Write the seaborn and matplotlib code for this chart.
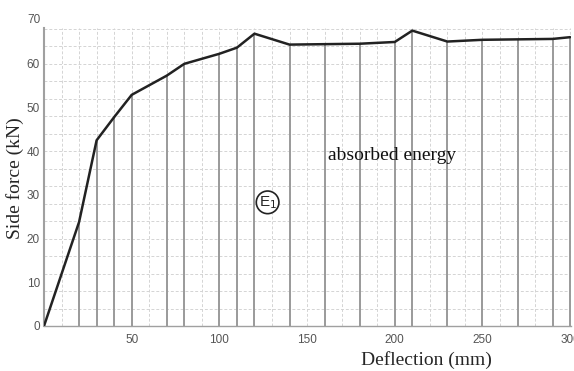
import matplotlib
matplotlib.use("Agg")
import matplotlib.pyplot as plt
import matplotlib.transforms as mtransforms
import numpy as np
import pandas as pd
import seaborn as sns

# ---- data ----
deflection = [0, 20, 30, 40, 50, 70, 80, 100, 110, 120, 140, 160, 180, 200, 210, 230, 250, 270, 290, 300]
side_force = [0, 23.8, 42.5, 47.8, 52.9, 57.3, 60.0, 62.3, 63.7, 66.9, 64.4, 64.5, 64.6, 65.0, 67.6, 65.1, 65.5, 65.6, 65.7, 66.1]
x_ticks = [50, 100, 150, 200, 250, 300]
y_ticks = [0, 10, 20, 30, 40, 50, 60]
y_extra_label = 70
annot_text = "absorbed energy"
energy_label = r"E$_1$"
x_label = "Deflection (mm)"
y_label = "Side force (kN)"

sns.set_theme(style="white")
plt.rcParams['font.family'] = ['Liberation Serif', 'DejaVu Serif']

df = pd.DataFrame({"x": deflection, "y": side_force})

fig = plt.figure(figsize=(5.74, 3.71), dpi=100)
ax = fig.add_axes([44/574, 1 - 326/371, 527/574, 298/371])

# minor dashed grid
for gx in np.arange(0, 301, 10):
    ax.axvline(gx, color="#d4d4d4", lw=0.7, ls=(0, (3, 2)), zorder=0)
for gy in np.arange(0, 69, 4):
    ax.axhline(gy, color="#d4d4d4", lw=0.7, ls=(0, (3, 2)), zorder=0)

# drop lines from curve vertices
ax.vlines(df["x"][1:], 0, df["y"][1:], colors="#9a9a9a", lw=1.4, zorder=1)

sns.lineplot(data=df, x="x", y="y", ax=ax, color="#222222", lw=1.8, zorder=3)

ax.set_xlim(0, 300.5)
ax.set_ylim(0, 68.2)
ax.set_xticks(x_ticks)
ax.set_yticks(y_ticks)
ax.tick_params(axis="both", length=0, labelsize=8.5, labelcolor="#555555")
ax.tick_params(axis="x", pad=6)
ax.tick_params(axis="y", pad=3)
for lab in ax.get_xticklabels() + ax.get_yticklabels():
    lab.set_family(["Liberation Sans", "DejaVu Sans"])

trans = mtransforms.blended_transform_factory(ax.transAxes, ax.transData)
ax.text(-0.006, y_extra_label, str(y_extra_label), transform=trans, ha="right", va="center",
        fontsize=8.5, color="#555555", family=["Liberation Sans", "DejaVu Sans"], clip_on=False)

for side in ["top", "right"]:
    ax.spines[side].set_visible(False)
ax.spines["left"].set_color("#a0a0a0")
ax.spines["left"].set_linewidth(1.5)
ax.spines["bottom"].set_color("#a0a0a0")
ax.spines["bottom"].set_linewidth(1.0)

ax.set_xlabel("")
ax.set_ylabel("")
fig.text(426/574, 1 - 360/371, x_label, ha="center", va="center", fontsize=14)
fig.text(15/574, 1 - 178/371, y_label, ha="center", va="center", rotation=90, fontsize=14)

ax.text(161.7, 39, annot_text, ha="left", va="center", fontsize=14, color="#111111", zorder=5)
ax.text(127.5, 28.3, energy_label, ha="center", va="center", fontsize=11,
        family=["Liberation Sans", "DejaVu Sans"], zorder=5,
        bbox=dict(boxstyle="circle,pad=0.15", fc="white", ec="#222222", lw=1.2))

fig.savefig("out.png", dpi=100)
